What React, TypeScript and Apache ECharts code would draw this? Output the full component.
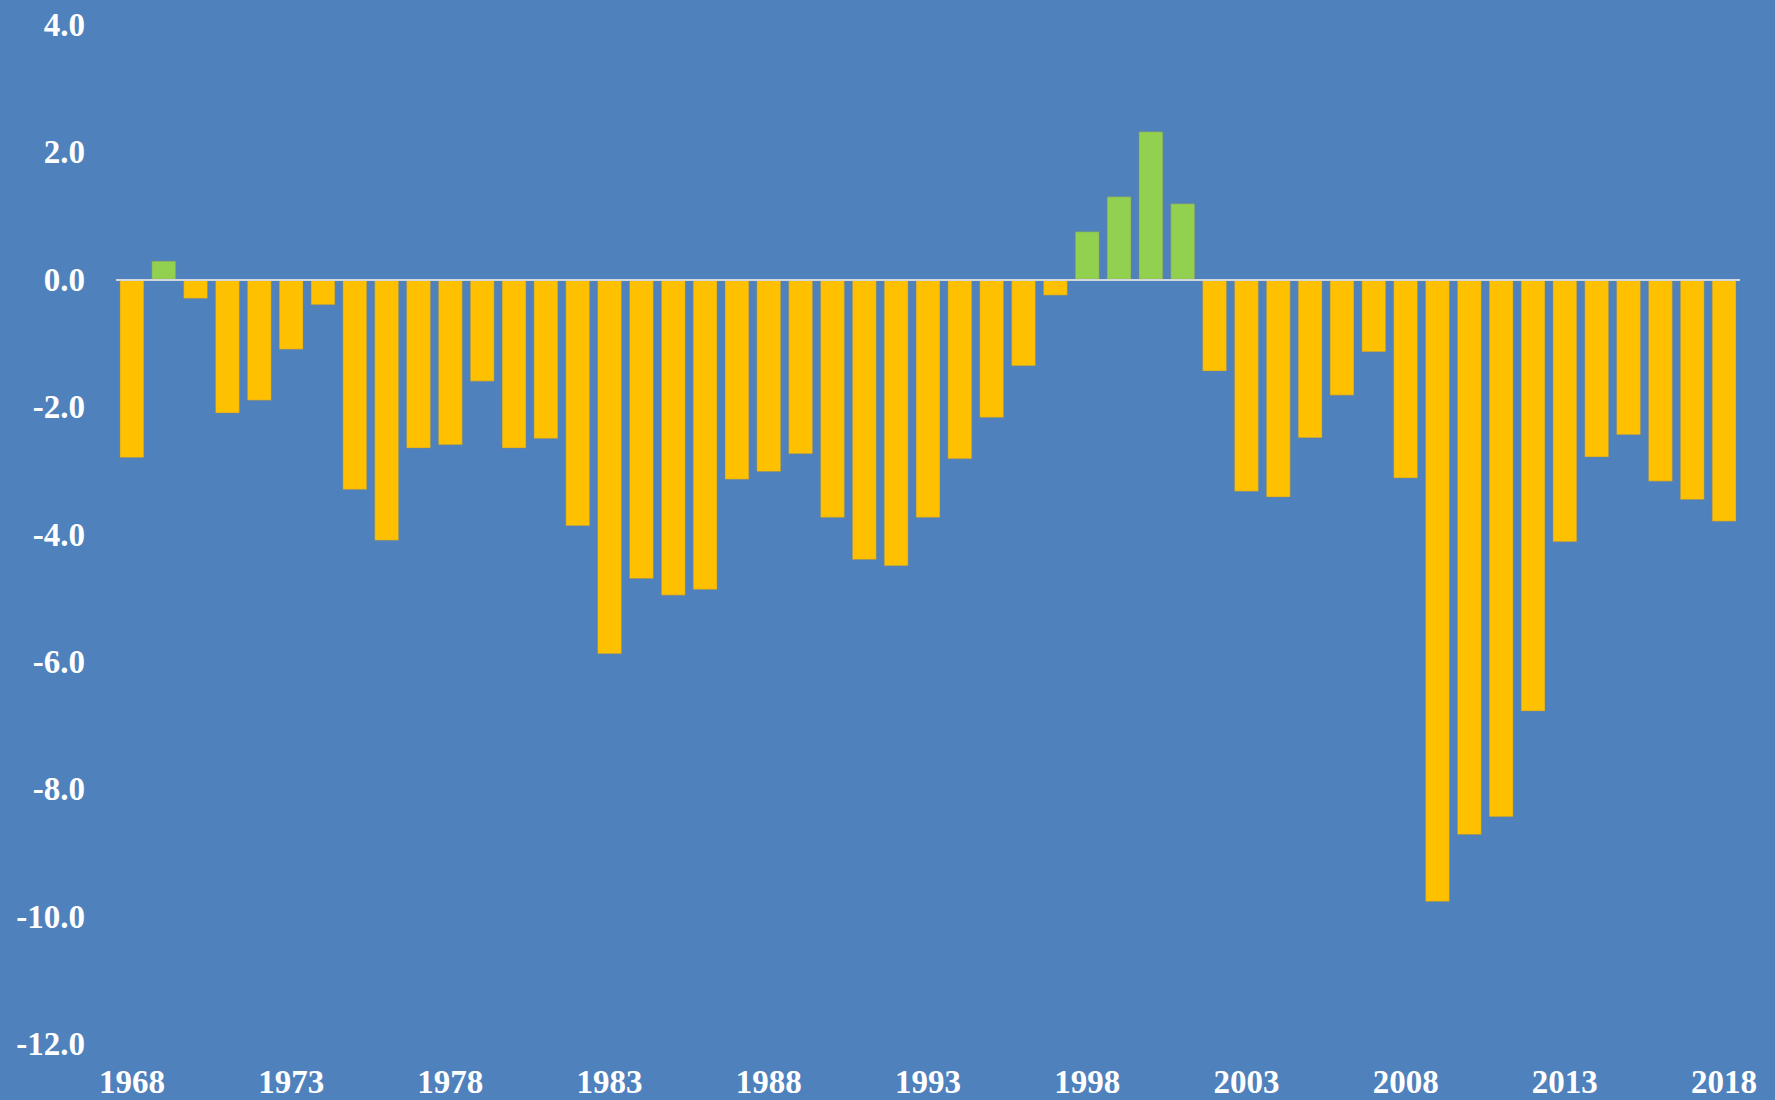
import React, { useEffect, useRef } from "react";
import * as echarts from "echarts";

const years: string[] = [];
for (let y = 1968; y <= 2018; y++) years.push(String(y));

const balance: number[] = [
  -2.8, 0.3, -0.3, -2.1, -1.9, -1.1, -0.4, -3.3, -4.1, -2.65,
  -2.6, -1.6, -2.65, -2.5, -3.87, -5.88, -4.7, -4.96, -4.87, -3.14,
  -3.02, -2.74, -3.74, -4.4, -4.5, -3.74, -2.82, -2.17, -1.36, -0.25,
  0.76, 1.31, 2.33, 1.2, -1.44, -3.33, -3.42, -2.49, -1.82, -1.14,
  -3.12, -9.77, -8.72, -8.44, -6.78, -4.12, -2.79, -2.44, -3.17, -3.46,
  -3.8,
];

const yTicks = { min: -12, max: 4, interval: 2 };

const BG = "#4F81BD";
const NEG = "#FFC000";
const POS = "#92D050";

export default function App() {
  const ref = useRef<HTMLDivElement>(null);
  useEffect(() => {
    if (!ref.current) return;
    const chart = echarts.init(ref.current, null, { renderer: "svg" });
    const font = "'Liberation Serif', 'Times New Roman', serif";
    chart.setOption({
      animation: false,
      backgroundColor: BG,
      grid: { left: 116, right: 35, top: 25, bottom: 56, containLabel: false },
      xAxis: {
        type: "category",
        data: years,
        position: "bottom",
        axisLine: { show: false, onZero: false },
        axisTick: { show: false },
        axisLabel: {
          interval: 4,
          color: "#FFFFFF",
          fontFamily: font,
          fontWeight: "bold",
          fontSize: 33,
          margin: 21,
        },
        splitLine: { show: false },
      },
      yAxis: {
        type: "value",
        min: yTicks.min,
        max: yTicks.max,
        interval: yTicks.interval,
        axisLine: { show: false },
        axisTick: { show: false },
        splitLine: { show: false },
        axisLabel: {
          color: "#FFFFFF",
          fontFamily: font,
          fontWeight: "bold",
          fontSize: 33,
          margin: 31,
          padding: [0, 0, 5, 0],
          formatter: (v: number) => v.toFixed(1),
        },
      },
      series: [
        {
          type: "bar",
          barCategoryGap: "22%",
          data: balance.map((v) => ({
            value: v,
            itemStyle: {
              color: v >= 0 ? POS : NEG,
              borderColor: "rgba(140,140,110,0.45)",
              borderWidth: 1,
            },
          })),
          markLine: {
            silent: true,
            symbol: "none",
            label: { show: false },
            lineStyle: { color: "#D3D6DC", width: 2, type: "solid" },
            data: [{ yAxis: 0 }],
          },
        },
      ],
    });
    return () => chart.dispose();
  }, []);
  return (
    <div
      ref={ref}
      style={{ position: "fixed", left: 0, top: 0, width: 1775, height: 1100 }}
    />
  );
}
